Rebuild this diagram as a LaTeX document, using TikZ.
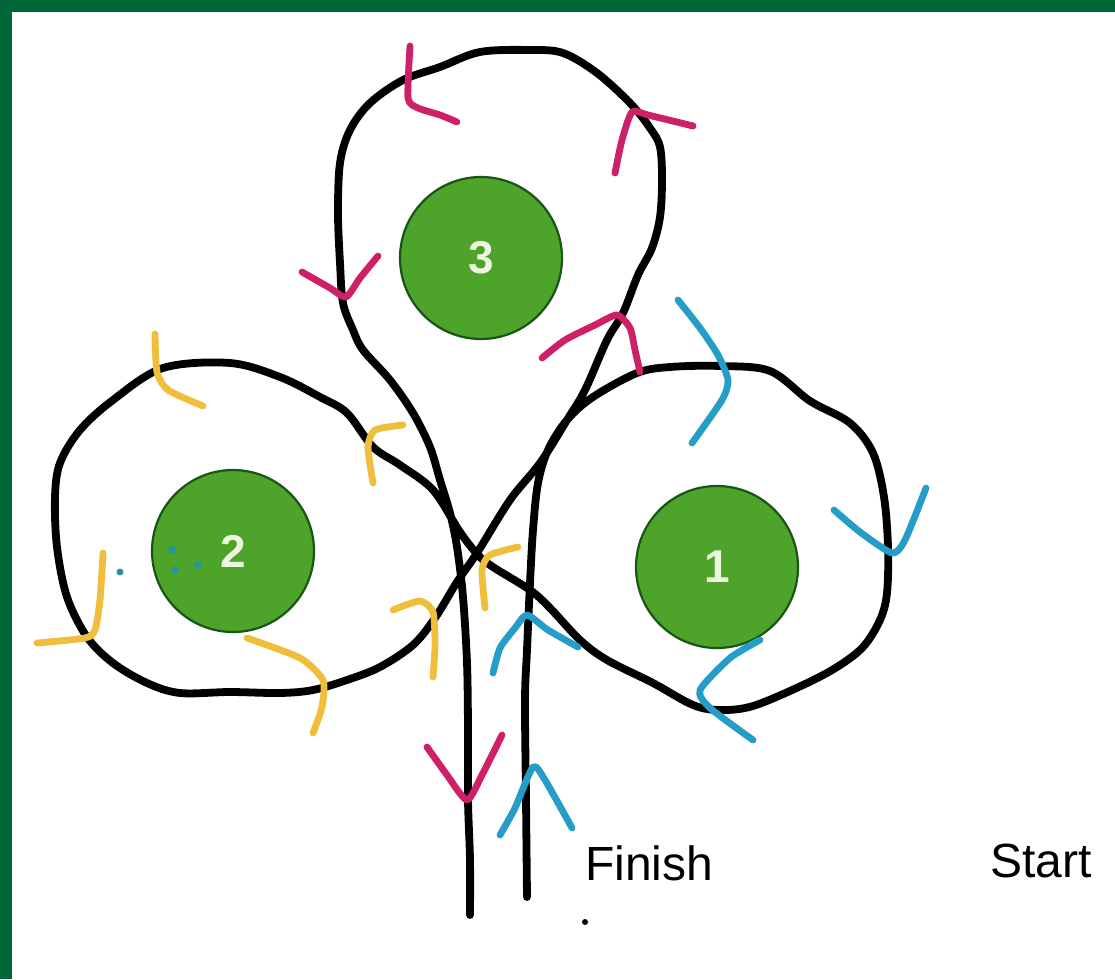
\documentclass[tikz,border=0pt]{standalone}
\usepackage{fontspec}
\setmainfont{Liberation Sans}
\definecolor{framegreen}{RGB}{0,102,56}
\definecolor{discfill}{RGB}{78,163,43}
\definecolor{discedge}{RGB}{25,85,20}
\definecolor{digitcol}{RGB}{236,246,222}
\definecolor{magcol}{RGB}{206,32,104}
\definecolor{blucol}{RGB}{38,156,200}
\definecolor{yelcol}{RGB}{240,190,60}
\definecolor{tealdot}{RGB}{40,150,150}
\begin{document}
\begin{tikzpicture}[x=1pt,y=-1pt,
  route/.style={draw=black, line width=7.8pt, line cap=round, line join=round},
  stroke/.style={line width=6.8pt, line cap=round, line join=round},
  disc/.style={circle, draw=discedge, line width=2.2pt, fill=discfill, minimum size=162pt, inner sep=0pt,
    text=digitcol, font=\fontsize{46}{50}\selectfont\bfseries},
  label/.style={inner sep=0pt, anchor=base west, font=\fontsize{48}{52}\selectfont}]
\useasboundingbox (0,0) rectangle (1115,979);
\fill[white] (0,0) rectangle (1115,979);
\fill[framegreen] (0,0) rectangle (1115,12);
\fill[framegreen] (0,0) rectangle (12,979);

% discs
\node[disc] (d3) at (481,258) {3};
\node[disc] (d2) at (233,551) {2};
\node[disc] (d1) at (717,567) {1};

% the route
\draw[route] plot[smooth, tension=0.55] coordinates {
(527,897) (526,800) (525,700) (527,650) (530,583) (533,530) (538,483) (548,450) (567,420)
(593,397) (637,373) (670,367) (720,366) (770,371) (810,401) (850,423) (873,453) (884,497)
(888,547) (887,593) (880,620) (863,647) (837,667) (803,685) (753,706) (720,710) (693,705)
(653,683) (607,660) (580,640) (550,608) (530,590) (493,567) (478,555) (460,532) (433,490)
(400,465) (373,447) (347,413) (320,397) (280,377) (230,363) (163,368) (113,400) (80,430)
(60,463) (55,497) (57,547) (67,597) (87,637) (113,663) (147,683) (180,693) (230,692)
(280,693) (313,690) (347,680) (380,667) (413,645) (435,618) (457,582) (477,553) (510,500)
(540,463) (567,420) (585,390) (607,340) (623,313) (638,275) (652,248) (660,217) (662,180)
(660,147) (650,128) (630,103) (597,73) (563,53) (530,50) (480,52) (440,67) (403,80)
(370,103) (350,130) (340,163) (338,213) (340,263) (343,303) (353,330) (363,350) (390,380)
(413,413) (430,447) (440,480) (450,513) (457,547) (463,597) (467,663) (468,730) (468,800)
(470,860) (470,915)};

% magenta arrows (loop 3)
\draw[stroke, magcol] plot[smooth, tension=0.4] coordinates {(410,46) (408,98) (418,108) (440,115) (457,122)};
\draw[stroke, magcol] plot[smooth, tension=0.4] coordinates {(615,173) (622,140) (632,112) (648,115) (693,126)};
\draw[stroke, magcol] plot[smooth, tension=0.4] coordinates {(302,272) (330,288) (346,297) (360,278) (378,256)};
\draw[stroke, magcol] plot[smooth, tension=0.4] coordinates {(542,358) (565,340) (595,325) (617,315) (630,328) (635,350) (640,372)};
\draw[stroke, magcol] plot[smooth, tension=0.4] coordinates {(427,747) (447,775) (467,800) (482,775) (502,735)};

% blue arrows (loop 1 and start)
\draw[stroke, blucol] plot[smooth, tension=0.4] coordinates {(678,300) (700,328) (718,355) (728,380) (722,400) (692,443)};
\draw[stroke, blucol] plot[smooth, tension=0.4] coordinates {(834,510) (860,532) (892,553) (905,540) (926,488)};
\draw[stroke, blucol] plot[smooth, tension=0.4] coordinates {(760,640) (730,658) (700,690) (710,708) (753,740)};
\draw[stroke, blucol] plot[smooth, tension=0.4] coordinates {(493,673) (500,648) (515,628) (527,615) (548,630) (578,647)};
\draw[stroke, blucol] plot[smooth, tension=0.4] coordinates {(500,835) (515,808) (533,767) (545,780) (572,828)};

% yellow arrows (loop 2)
\draw[stroke, yelcol] plot[smooth, tension=0.4] coordinates {(155,334) (157,372) (168,390) (203,406)};
\draw[stroke, yelcol] plot[smooth, tension=0.4] coordinates {(373,483) (368,447) (375,430) (403,425)};
\draw[stroke, yelcol] plot[smooth, tension=0.4] coordinates {(103,553) (100,600) (95,630) (85,638) (37,643)};
\draw[stroke, yelcol] plot[smooth, tension=0.4] coordinates {(247,638) (300,658) (323,680) (322,707) (313,733)};
\draw[stroke, yelcol] plot[smooth, tension=0.4] coordinates {(393,610) (420,601) (433,612) (435,645) (433,677)};
\draw[stroke, yelcol] plot[smooth, tension=0.4] coordinates {(485,608) (482,570) (490,555) (518,547)};

% small dots
\fill[tealdot] (120,572) circle (3.5);
\fill[tealdot] (172,550) circle (4);
\fill[tealdot] (175,570) circle (4);
\fill[tealdot] (198,565) circle (4);
\fill[black] (585,922) circle (3);

% labels
\node[label] (finish) at (585,880) {Finish};
\node[label] (start) at (990,877) {Start};
\end{tikzpicture}
\end{document}
